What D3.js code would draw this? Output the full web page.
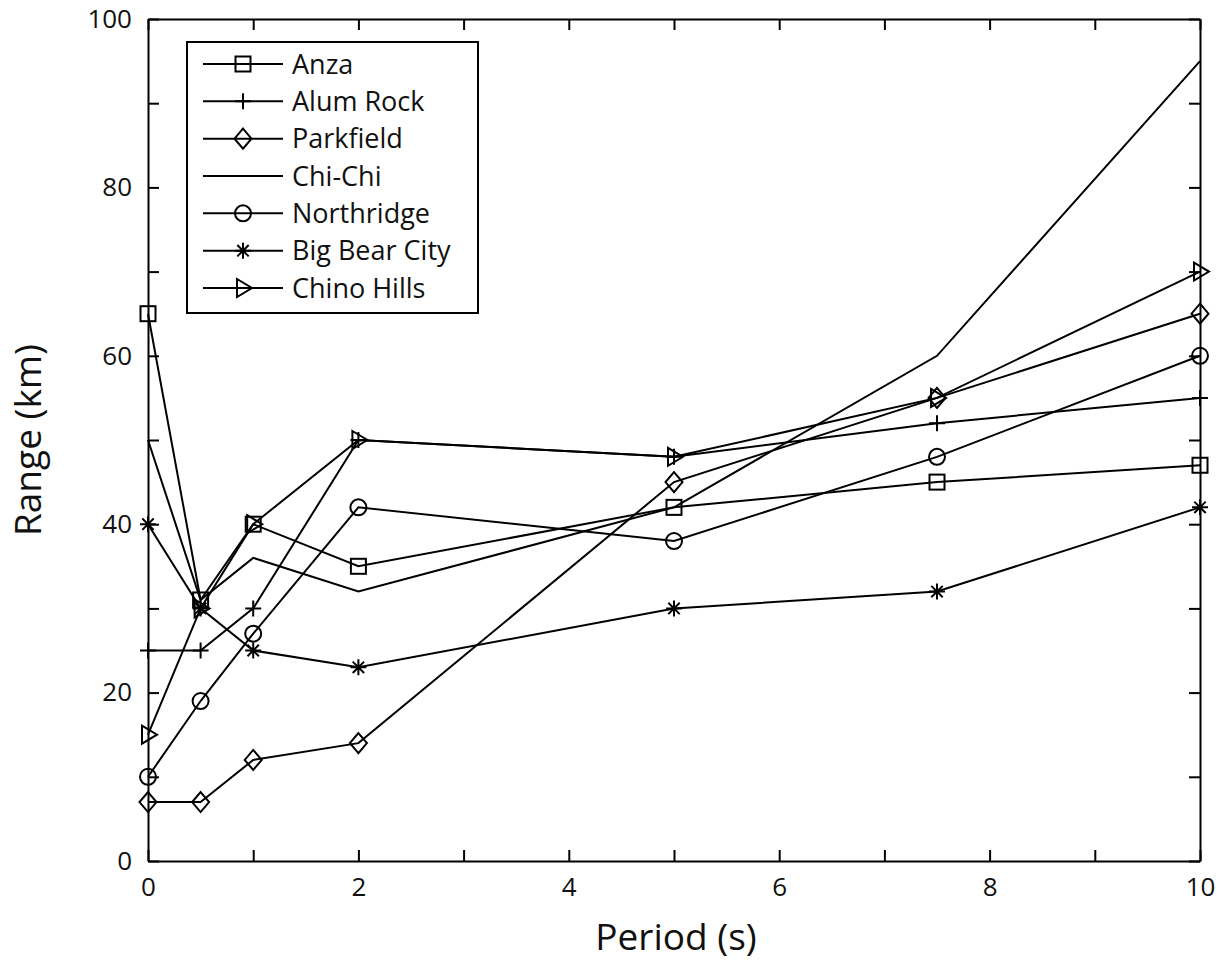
<!DOCTYPE html>
<html>
<head>
<meta charset="utf-8">
<script src="https://cdn.jsdelivr.net/npm/d3@7"></script>
<style>
  html, body { margin: 0; padding: 0; background: #fff; }
  svg { display: block; }
  text { font-family: "Open Sans", "Noto Sans", sans-serif; fill: #111; }
</style>
</head>
<body>
<svg id="chart" width="1223" height="965"></svg>
<script>
// ---- data ----
const periods = [0, 0.5, 1, 2, 5, 7.5, 10];
const seriesNames = ["Anza", "Alum Rock", "Parkfield", "Chi-Chi", "Northridge", "Big Bear City", "Chino Hills"];
const seriesMarkers = ["square", "plus", "diamond", "none", "circle", "star", "triangle"];
const anza = [65, 31, 40, 35, 42, 45, 47];
const alumRock = [25, 25, 30, 50, 48, 52, 55];
const parkfield = [7, 7, 12, 14, 45, 55, 65];
const chiChi = [50, 31, 36, 32, 42, 60, 95];
const northridge = [10, 19, 27, 42, 38, 48, 60];
const bigBearCity = [40, 30, 25, 23, 30, 32, 42];
const chinoHills = [15, 30, 40, 50, 48, 55, 70];
const xTickValues = [0, 1, 2, 3, 4, 5, 6, 7, 8, 9, 10];
const xTickLabels = ["0", "", "2", "", "4", "", "6", "", "8", "", "10"];
const yTickValues = [0, 10, 20, 30, 40, 50, 60, 70, 80, 90, 100];
const yTickLabels = ["0", "", "20", "", "40", "", "60", "", "80", "", "100"];
const xTitle = "Period (s)";
const yTitle = "Range (km)";

const allSeries = [anza, alumRock, parkfield, chiChi, northridge, bigBearCity, chinoHills];

// ---- layout ----
const svg = d3.select("#chart");
const pLeft = 148, pRight = 1200, pTop = 19, pBottom = 861;
const x = d3.scaleLinear().domain([0, 10]).range([pLeft, pRight]);
const y = d3.scaleLinear().domain([0, 100]).range([pBottom, pTop]);
const tickLen = 11;

// ---- marker drawing ----
function drawMarker(g, type, cx, cy) {
  let el;
  if (type === "square") {
    el = g.append("rect").attr("x", cx - 7.5).attr("y", cy - 7.5).attr("width", 15).attr("height", 15);
  } else if (type === "circle") {
    el = g.append("circle").attr("cx", cx).attr("cy", cy).attr("r", 8);
  } else if (type === "diamond") {
    el = g.append("path").attr("d", `M${cx},${cy - 10}L${cx + 8.5},${cy}L${cx},${cy + 10}L${cx - 8.5},${cy}Z`);
  } else if (type === "triangle") {
    el = g.append("path").attr("d", `M${cx - 6},${cy - 9}L${cx + 9},${cy}L${cx - 6},${cy + 9}Z`);
  } else if (type === "plus") {
    el = g.append("path").attr("d", `M${cx - 8},${cy}H${cx + 8}M${cx},${cy - 8}V${cy + 8}`);
  } else if (type === "star") {
    const r = 8, d = 5.7;
    el = g.append("path").attr("d",
      `M${cx - r},${cy}H${cx + r}M${cx},${cy - r}V${cy + r}` +
      `M${cx - d},${cy - d}L${cx + d},${cy + d}M${cx - d},${cy + d}L${cx + d},${cy - d}`);
  } else {
    return;
  }
  el.attr("fill", "none").attr("stroke", "#000").attr("stroke-width", 2);
}

// ---- axes (ticks inward on all four sides) ----
const xAxisB = d3.axisBottom(x).tickValues(xTickValues).tickSizeInner(-tickLen).tickSizeOuter(0).tickFormat((d, i) => xTickLabels[i]).tickPadding(17);
const xAxisT = d3.axisTop(x).tickValues(xTickValues).tickSizeInner(-tickLen).tickSizeOuter(0).tickFormat("");
const yAxisL = d3.axisLeft(y).tickValues(yTickValues).tickSizeInner(-tickLen).tickSizeOuter(0).tickFormat((d, i) => yTickLabels[i]).tickPadding(16);
const yAxisR = d3.axisRight(y).tickValues(yTickValues).tickSizeInner(-tickLen).tickSizeOuter(0).tickFormat("");

function styleAxis(g) {
  g.selectAll("path.domain").attr("stroke", "#000").attr("stroke-width", 2);
  g.selectAll(".tick line").attr("stroke", "#000").attr("stroke-width", 2);
  g.selectAll(".tick text").attr("font-family", "Open Sans, Noto Sans, sans-serif").attr("font-size", 26).attr("fill", "#111");
}
svg.append("g").attr("transform", `translate(0,${pBottom})`).call(xAxisB).call(styleAxis);
svg.append("g").attr("transform", `translate(0,${pTop})`).call(xAxisT).call(styleAxis);
svg.append("g").attr("transform", `translate(${pLeft},0)`).call(yAxisL).call(styleAxis);
svg.append("g").attr("transform", `translate(${pRight},0)`).call(yAxisR).call(styleAxis);

// ---- series ----
const line = d3.line().x((d, i) => x(periods[i])).y(d => y(d));
const plot = svg.append("g");
allSeries.forEach((vals) => {
  plot.append("path").datum(vals).attr("d", line)
    .attr("fill", "none").attr("stroke", "#000").attr("stroke-width", 2).attr("stroke-linejoin", "miter");
});
allSeries.forEach((vals, si) => {
  vals.forEach((v, i) => drawMarker(plot, seriesMarkers[si], x(periods[i]), y(v)));
});

// ---- legend ----
const lg = svg.append("g");
const lgLeft = 187, lgTop = 42, lgW = 291, lgH = 271;
lg.append("rect").attr("x", lgLeft).attr("y", lgTop).attr("width", lgW).attr("height", lgH)
  .attr("fill", "#fff").attr("stroke", "#000").attr("stroke-width", 2);
const rowY = d3.scalePoint().domain(seriesNames).range([64, 288]);
seriesNames.forEach((name, si) => {
  const yy = rowY(name);
  lg.append("line").attr("x1", 203).attr("x2", 283).attr("y1", yy).attr("y2", yy)
    .attr("stroke", "#000").attr("stroke-width", 2);
  drawMarker(lg, seriesMarkers[si], 243, yy);
  lg.append("text").attr("x", 292).attr("y", yy).attr("dy", "0.36em")
    .attr("font-size", 27).text(name);
});

// ---- titles ----
svg.append("text").attr("x", 676).attr("y", 950).attr("text-anchor", "middle")
  .attr("font-size", 37).text(xTitle);
svg.append("text").attr("transform", `translate(41,440) rotate(-90)`).attr("text-anchor", "middle")
  .attr("font-size", 37).text(yTitle);
</script>
</body>
</html>
